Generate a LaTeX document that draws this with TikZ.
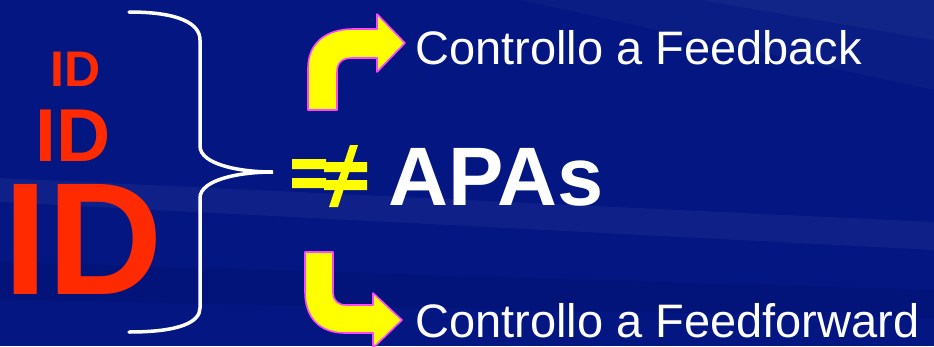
\documentclass[tikz,border=0pt]{standalone}
\usepackage{fontspec}
\setmainfont{Liberation Sans}
\usepackage{xcolor}
\usetikzlibrary{positioning,calc}
\definecolor{slideblue}{RGB}{3,22,130}
\definecolor{idred}{RGB}{255,42,0}
\definecolor{arrowyellow}{RGB}{255,255,0}
\definecolor{arrowpink}{RGB}{255,70,255}

\tikzset{
  idtext/.style={text=idred,inner sep=0pt,anchor=base west,text depth=0pt},
  slidetext/.style={text=white,inner sep=0pt,anchor=base west},
  bentarrow/.style={fill=arrowyellow,draw=arrowpink,line width=1.6pt,line join=round},
}

\begin{document}
\begin{tikzpicture}[x=1pt,y=-1pt]
  \useasboundingbox (0,0) rectangle (934,346);
  % slide background with faint light streaks
  \fill[slideblue] (0,0) rectangle (934,346);
  \fill[white,opacity=0.05] (0,178) -- (934,222) -- (934,250) -- (0,202) -- cycle;
  \fill[white,opacity=0.03] (520,0) -- (934,0) -- (934,90) -- cycle;
  \fill[white,opacity=0.03] (700,0) -- (934,0) -- (934,40) -- cycle;
  \fill[black,opacity=0.06] (0,262) -- (934,290) -- (934,318) -- (0,300) -- cycle;

  % the three ID's, growing in size
  \node[idtext,text height=37pt,font={\fontsize{50}{50}\selectfont\bfseries}]   (idsmall) at (50,86)  {ID};
  \node[idtext,text height=55pt,font={\fontsize{75}{75}\selectfont\bfseries}]   (idmid)   at (35,161) {ID};
  \node[idtext,text height=116pt,font={\fontsize{160}{160}\selectfont\bfseries}] (idbig)  at (3,294)  {ID};

  % curly brace
  \draw[white,line width=3.5pt,line cap=round]
    (129,12) .. controls (180,12) and (200,24) .. (200,40) -- (200,146)
    .. controls (200,164) and (238,172) .. (273,172)
    .. controls (238,172) and (200,180) .. (200,198) -- (200,308)
    .. controls (200,322) and (180,332) .. (129,332);

  % "not equal" sign
  \fill[arrowyellow] (292,159) rectangle (326,169) (324,162) rectangle (367,172);
  \fill[arrowyellow] (292,178) rectangle (326,188) (324,180) rectangle (367,190);
  \fill[arrowyellow] (350,145) -- (358,145) -- (338,207) -- (329,207) -- cycle;

  \node[slidetext,font={\fontsize{83}{83}\selectfont\bfseries}] (apas) at (388,205) {APAs};

  % bent arrows
  \draw[bentarrow] (308,110) -- (308,68) .. controls (308,44) and (325,29) .. (353,29)
    -- (377,29) -- (377,14) -- (405,43) -- (377,72) -- (377,58) -- (352,58)
    .. controls (343,58) and (337,62) .. (337,72) -- (337,110) -- cycle;
  \draw[bentarrow] (305,252) -- (305,292) .. controls (305,318) and (320,333) .. (345,333)
    -- (373,333) -- (373,348) -- (402,320) -- (373,293) -- (373,305) -- (346,305)
    .. controls (338,305) and (333,300) .. (333,293) -- (333,252) -- cycle;

  \node[slidetext,font={\fontsize{47}{47}\selectfont}] (fb) at (415,64)  {Controllo a Feedback};
  \node[slidetext,font={\fontsize{47}{47}\selectfont}] (ff) at (415,337) {Controllo a Feedforward};
\end{tikzpicture}
\end{document}
